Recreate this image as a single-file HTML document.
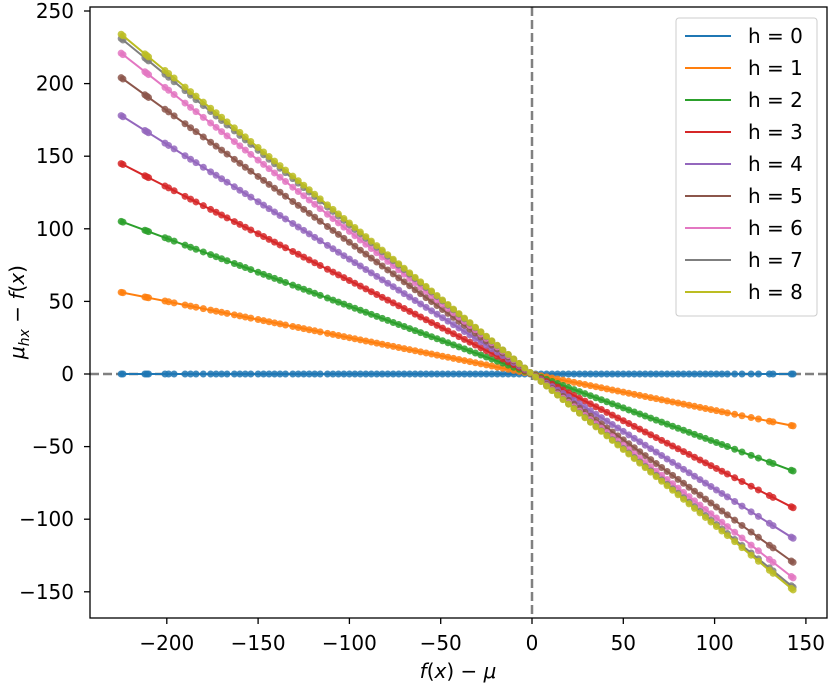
<!DOCTYPE html>
<html><head><meta charset="utf-8"><style>
body{margin:0;background:#fff}
svg{display:block;font-family:"DejaVu Sans","Liberation Sans",sans-serif}
</style></head><body>
<svg id="chart" width="831" height="687" viewBox="0 0 831 687">
<g id="plot"></g>
</svg>
<script>
const hValues=[0,1,2,3,4,5,6,7,8];
const slopes=[0,0.25,0.467,0.644,0.791,0.907,0.982,1.027,1.04];
const xValues=[-225,-224,-212,-211,-210,-201,-199,-196,-190,-187,-184,-180,-176,-173,-170,-167,-163,-160,-157,-154,-150,-147,-144,-141,-138,-135,-131,-128,-125,-122,-119,-116,-112,-109,-106,-103,-100,-97,-94,-91,-88,-85,-82,-79,-76,-73,-70,-67,-64,-61,-58,-55,-52,-49,-46,-43,-40,-37,-34,-31,-28,-25,-22,-19,-16,-13,-10,-7,-4,-1,2,5,8,11,14,17,20,23,26,29,32,35,38,41,44,47,50,53,56,59,62,65,68,71,74,77,80,83,86,89,92,95,98,101,104,107,111,115,120,124,130,132,142,143];
const xTicks=[-200,-150,-100,-50,0,50,100,150];
const yTicks=[-150,-100,-50,0,50,100,150,200,250];
const colors=['#1f77b4','#ff7f0e','#2ca02c','#d62728','#9467bd','#8c564b','#e377c2','#7f7f7f','#bcbd22'];
const L=90,R=827,T=7,B=618;
const sx=v=>532+v*1.826;
const sy=v=>374-v*1.452;
const NS='http://www.w3.org/2000/svg';
const g=document.getElementById('plot');
function mk(tag,attrs,parent){const e=document.createElementNS(NS,tag);for(const k in attrs)e.setAttribute(k,attrs[k]);(parent||g).appendChild(e);return e;}
let d1=mk('line',{x1:sx(0),x2:sx(0),y1:T,y2:B,stroke:'#808080','stroke-width':2.5,'stroke-dasharray':'9,4'});


let d2=mk('line',{x1:L,x2:R,y1:sy(0),y2:sy(0),stroke:'#808080','stroke-width':2.5,'stroke-dasharray':'9,4'});


hValues.forEach((h,i)=>{
  const sg=mk('g',{});
  
  
  const pts=xValues.map(x=>sx(x).toFixed(1)+','+sy(-slopes[i]*x).toFixed(1)).join(' ');
  const pl=mk('polyline',{points:pts,fill:'none',stroke:colors[i],'stroke-width':2},sg);
  
  
  xValues.forEach(x=>{
    const c=mk('circle',{cx:sx(x),cy:sy(-slopes[i]*x),r:3.5,fill:colors[i],'fill-opacity':0.85},sg);
    
    
  });
});
let fr=mk('rect',{x:L,y:T,width:R-L,height:B-T,fill:'none',stroke:'#000','stroke-width':1.3});


xTicks.forEach(v=>{
  const t=mk('line',{x1:sx(v),x2:sx(v),y1:B,y2:B+6,stroke:'#000','stroke-width':1.3});
  
  
  const tx=mk('text',{x:sx(v),y:B+32,'text-anchor':'middle','font-size':20});
  tx.textContent=(v<0?'\u2212'+(-v):v);
  
  
});
yTicks.forEach(v=>{
  const t=mk('line',{x1:L-6,x2:L,y1:sy(v),y2:sy(v),stroke:'#000','stroke-width':1.3});
  
  
  const tx=mk('text',{x:L-16,y:sy(v)+7,'text-anchor':'end','font-size':20});
  tx.textContent=(v<0?'\u2212'+(-v):v);
  
  
});
let xl=mk('text',{x:458,y:678,'text-anchor':'middle','font-size':20});
xl.innerHTML='<tspan font-style="italic">f</tspan>(<tspan font-style="italic">x</tspan>) \u2212 <tspan font-style="italic">\u03bc</tspan>';


let yl=mk('text',{x:0,y:0,'text-anchor':'middle','font-size':20,transform:'translate(24,312) rotate(-90)'});
yl.innerHTML='<tspan font-style="italic">\u03bc</tspan><tspan font-style="italic" font-size="14" dy="5">hx</tspan><tspan dy="-5"> \u2212 </tspan><tspan font-style="italic">f</tspan>(<tspan font-style="italic">x</tspan>)';


const lg=mk('g',{});


mk('rect',{x:676,y:18,width:141,height:298,rx:3,fill:'#fff','fill-opacity':0.85,stroke:'#ccc'},lg);
hValues.forEach((h,i)=>{
  const y=36+i*32;
  const e=mk('g',{},lg);
  
  
  mk('line',{x1:685,x2:731,y1:y,y2:y,stroke:colors[i],'stroke-width':2},e);
  const t=mk('text',{x:748,y:y+7,'font-size':20},e);
  t.textContent='h = '+h;
});
</script>
</body></html>
